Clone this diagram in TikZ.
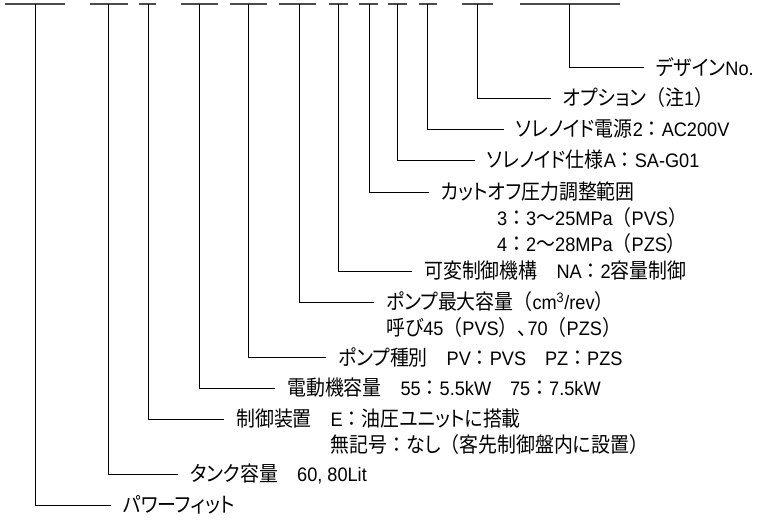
\documentclass[tikz,border=0pt]{standalone}
\usepackage{fontspec}
\setmainfont{Liberation Sans}[Scale=0.93, FakeStretch=0.93]
\newfontfamily\jp{Noto Sans CJK JP}[RawFeature=+palt, FakeStretch=0.9]
\newfontfamily\jpf{Noto Sans CJK JP}[FakeStretch=0.9]
\newcommand{\J}[1]{{\jp #1}}
\newcommand{\Pn}[1]{{\jpf #1}}
\tikzset{
  bar/.style={line width=1.1pt, black!70},
  conn/.style={line width=0.9pt, black, shorten >=12pt},
  lbl/.style={anchor=west, inner sep=0pt, font=\fontsize{21}{26}\selectfont},
  cont/.style={anchor=base west, inner sep=0pt, font=\fontsize{21}{26}\selectfont}
}
\begin{document}
\begin{tikzpicture}[x=1pt, y=-1pt]
\useasboundingbox (0,0) rectangle (760,523);
% top bars
\draw[bar] (5,4) -- (65,4);   \coordinate (t1) at (35,4);
\draw[bar] (90,4) -- (128,4); \coordinate (t2) at (108.5,4);
\draw[bar] (139,4) -- (156,4); \coordinate (t3) at (148,4);
\draw[bar] (181,4) -- (218,4); \coordinate (t4) at (199,4);
\draw[bar] (230,4) -- (267,4); \coordinate (t5) at (248,4);
\draw[bar] (279,4) -- (316,4); \coordinate (t6) at (299,4);
\draw[bar] (329,4) -- (348,4); \coordinate (t7) at (338,4);
\draw[bar] (359,4) -- (378,4); \coordinate (t8) at (369,4);
\draw[bar] (388,4) -- (407,4); \coordinate (t9) at (397,4);
\draw[bar] (419,4) -- (437,4); \coordinate (t10) at (427,4);
\draw[bar] (462,4) -- (493,4); \coordinate (t11) at (477,4);
\draw[bar] (520,4) -- (620,4); \coordinate (t12) at (569,4);
% labels
\node[lbl] (l12) at (656,67) {\J{デザイン}No.};
\node[lbl] (l11) at (563,98) {\J{オプション}\Pn{（}\J{注}1\Pn{）}};
\node[lbl] (l10) at (516,129) {\J{ソレノイド電源}2\Pn{：}AC200V};
\node[lbl] (l9) at (487,160) {\J{ソレノイド仕様}A\Pn{：}SA-G01};
\node[lbl] (l8) at (441,192) {\J{カットオフ圧力調整範囲}};
\node[cont] (l8b) at ([xshift=56pt,yshift=-26pt]l8.base west) {3\Pn{：}3\Pn{〜}25MPa\Pn{（}PVS\Pn{）}};
\node[cont] (l8c) at ([yshift=-26pt]l8b.base west) {4\Pn{：}2\Pn{〜}28MPa\Pn{（}PZS\Pn{）}};
\node[lbl] (l7) at (424,271) {\J{可変制御機構}\Pn{　}NA\Pn{：}2\J{容量制御}};
\node[lbl] (l6) at (386,302) {\J{ポンプ最大容量}\Pn{（}cm\textsuperscript{3}/rev\Pn{）}};
\node[cont] (l6b) at ([yshift=-26pt]l6.base west) {\J{呼び}45\Pn{（}PVS\Pn{）、}\kern-9pt 70\Pn{（}PZS\Pn{）}};
\node[lbl] (l5) at (338,357) {\J{ポンプ種別}\Pn{　}PV\Pn{：}PVS\Pn{　}PZ\Pn{：}PZS};
\node[lbl] (l4) at (287,388) {\J{電動機容量}\Pn{　}55\Pn{：}5.5kW\Pn{　}75\Pn{：}7.5kW};
\node[lbl] (l3) at (236,419) {\J{制御装置}\Pn{　}E\Pn{：}\J{油圧ユニットに搭載}};
\node[cont] (l3b) at ([yshift=-26pt]l3.base west) {\hphantom{\J{制御装置}\Pn{　}}\J{無記号}\Pn{：}\J{なし}\Pn{（}\J{客先制御盤内に設置}\Pn{）}};
\node[lbl] (l2) at (190,474) {\J{タンク容量}\Pn{　}60, 80Lit};
\node[lbl] (l1) at (123,505) {\J{パワーフィット}};
% connectors
\foreach \i in {1,...,12} {
  \draw[conn] (t\i) |- (l\i.west);
}
\end{tikzpicture}
\end{document}
